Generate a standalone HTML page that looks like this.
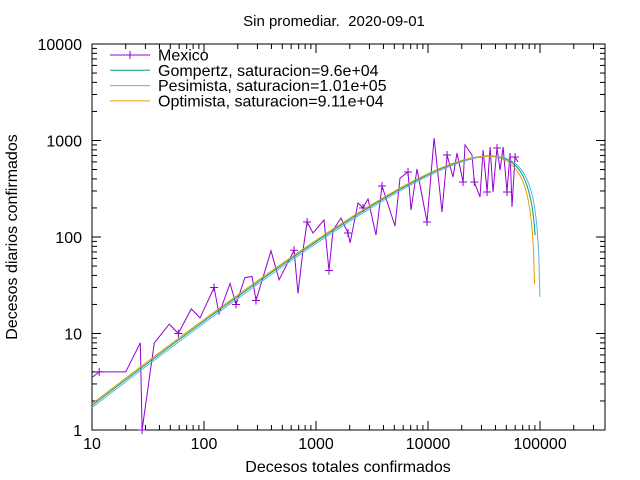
<!DOCTYPE html>
<html><head><meta charset="utf-8">
<style>
body{margin:0;background:#fff;width:640px;height:480px;overflow:hidden}
svg{display:block;font-family:"Liberation Sans",sans-serif}
</style></head>
<body>
<svg id="chart" width="640" height="480" viewBox="0 0 640 480" xmlns="http://www.w3.org/2000/svg">
<rect width="640" height="480" fill="#fff"/>
<text x="334" y="26" font-size="15" text-anchor="middle" style="white-space:pre">Sin promediar.  2020-09-01</text>
<text x="348" y="472" font-size="16" text-anchor="middle">Decesos totales confirmados</text>
<text transform="translate(17,237) rotate(-90)" font-size="16" text-anchor="middle">Decesos diarios confirmados</text>
<g id="axes"></g>
<g id="series"></g>
<g id="legend"></g>
</svg>
<script>
// Mexico data: cumulative deaths (x) vs daily deaths (y)
const mexX=[10,11.6,20,27,28,36,49,59,77,92,123,136,171,193,232,269,291,396,468,637,691,765,832,940,1178,1306,1419,1672,1930,2013,2372,2630,2913,3433,3883,5070,5623,6627,7047,7976,9795,11320,13340,14790,16720,18160,20550,21400,24700,25900,29100,31000,33650,35800,38000,41300,44000,46800,50700,54000,56200,59800,63700];
const mexY=[3.5,4,4,8,1,8,12.5,10,18,14.5,30,16,33,20,38,39,22,72,36,73,26,73,143,110,150,45,118,157,110,87,225,200,248,105,338,130,408,472,190,507,143,1062,182,707,419,742,371,900,707,371,260,798,293,857,293,835,494,857,293,742,205,675,598];
// Fit models: saturation K, rate r, last evaluated cumulative value
const fitNames=["Gompertz, saturacion=9.6e+04","Pesimista, saturacion=1.01e+05","Optimista, saturacion=9.11e+04"];
const fitK=[96000,101000,91100];
const fitR=[0.0196,0.0185,0.0205];
const fitEnd=[90500,99700,89500];
const fitColors=["#009e73","#56b4e9","#e69f00"];

const NS="http://www.w3.org/2000/svg";
const L=92,R=605,T=44,B=430;
const xMin=1,xMax=5.58,yMin=0,yMax=4;
function sx(v){return L+(Math.log10(v)-xMin)/(xMax-xMin)*(R-L);}
function sy(v){return B-(Math.log10(v)-yMin)/(yMax-yMin)*(B-T);}
function mk(tag,attrs,parent){const e=document.createElementNS(NS,tag);for(const k in attrs)e.setAttribute(k,attrs[k]);parent.appendChild(e);return e;}

const axes=document.getElementById('axes');
const frame=mk('rect',{x:L,y:T,width:R-L,height:B-T,fill:'none',stroke:'#000','stroke-width':1},axes);


const xTickLabels=["10","100","1000","10000","100000"];
const yTickLabels=["1","10","100","1000","10000"];
for(let d=1;d<=5;d++){
  for(let m=1;m<10;m++){
    const v=Math.pow(10,d)*m; if(Math.log10(v)>xMax)break;
    const x=sx(v),len=m==1?9:5;
    mk('line',{x1:x,y1:B,x2:x,y2:B-len,stroke:'#000'},axes);
    mk('line',{x1:x,y1:T,x2:x,y2:T+len,stroke:'#000'},axes);
  }
  const t=mk('text',{x:sx(Math.pow(10,d)),y:B+19,'font-size':16,'text-anchor':'middle'},axes);
  t.textContent=xTickLabels[d-1];
  
  
}
for(let d=0;d<=4;d++){
  for(let m=1;m<10;m++){
    const v=Math.pow(10,d)*m; if(Math.log10(v)>yMax)break;
    const y=sy(v),len=m==1?9:5;
    mk('line',{x1:L,y1:y,x2:L+len,y2:y,stroke:'#000'},axes);
    mk('line',{x1:R,y1:y,x2:R-len,y2:y,stroke:'#000'},axes);
  }
  const t=mk('text',{x:L-10,y:sy(Math.pow(10,d))+6,'font-size':16,'text-anchor':'end'},axes);
  t.textContent=yTickLabels[d];
  
  
}

const series=document.getElementById('series');
let pts=mexX.map((x,i)=>sx(x).toFixed(1)+','+sy(mexY[i]).toFixed(1)).join(' ');
const mline=mk('polyline',{points:pts,fill:'none',stroke:'#9400d3','stroke-width':1},series);


mexX.forEach((x,i)=>{
  if(i%3!==1)return;
  const cx=sx(x),cy=sy(mexY[i]);
  const p=mk('path',{d:`M${cx-4},${cy}H${cx+4}M${cx},${cy-4}V${cy+4}`,stroke:'#9400d3','stroke-width':1},series);
  
  
});
fitK.forEach((K,j)=>{
  const r=fitR[j],p=[];
  const lo=1,hi=Math.log10(fitEnd[j]);
  for(let k=0;k<=400;k++){
    const lx=lo+(hi-lo)*k/400,x=Math.pow(10,lx);
    const y=r*x*Math.log(K/x);
    if(y>0)p.push(sx(x).toFixed(1)+','+sy(y).toFixed(1));
  }
  const c=mk('polyline',{points:p.join(' '),fill:'none',stroke:fitColors[j],'stroke-width':1},series);
  
  
});

const legend=document.getElementById('legend');
const legNames=["Mexico"].concat(fitNames);
const legColors=["#9400d3"].concat(fitColors);
legNames.forEach((n,i)=>{
  const y=55+i*15.3;
  const g=mk('g',{},legend);
  
  
  mk('line',{x1:110,y1:y,x2:150,y2:y,stroke:legColors[i],'stroke-width':1},g);
  if(i===0)mk('line',{x1:130,y1:y-4,x2:130,y2:y+4,stroke:legColors[i]},g);
  const t=mk('text',{x:158,y:y+5.5,'font-size':16},g);
  t.textContent=n;
});
</script>
</body></html>
